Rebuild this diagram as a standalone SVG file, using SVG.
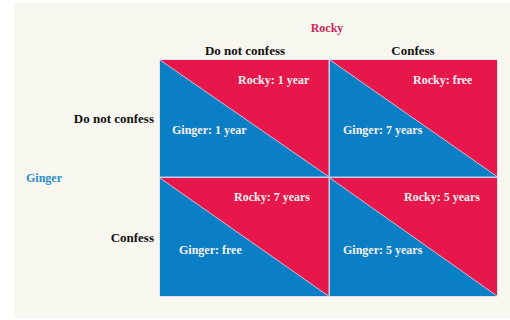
<svg xmlns="http://www.w3.org/2000/svg" width="510" height="320" viewBox="0 0 510 320">
<style>
.red{fill:#e8174b}
.blue{fill:#0b7fc6}
.diag{stroke:#e9c7d6;stroke-width:0.8;fill:none}
.cell{font-family:"Liberation Serif",serif;font-weight:bold;font-size:12px;fill:#f7f1f1}
.hdr{font-family:"Liberation Serif",serif;font-weight:bold;font-size:13px;fill:#111}
.player{font-family:"Liberation Serif",serif;font-weight:bold;font-size:12px}
</style>
<rect x="0" y="0" width="510" height="320" fill="#ffffff"/>
<rect x="14" y="3" width="496" height="315" fill="#f7f7ef"/>
<g id="title-rocky"><text class="player" x="327" y="32" text-anchor="middle" fill="#d3245c">Rocky</text></g>
<g id="title-ginger"><text class="player" x="26" y="182" fill="#2a8dcd">Ginger</text></g>
<g id="col-headers">
<text class="hdr" x="245" y="55" text-anchor="middle">Do not confess</text>
<text class="hdr" x="413" y="55" text-anchor="middle">Confess</text>
</g>
<g id="row-headers">
<text class="hdr" x="154" y="123" text-anchor="end">Do not confess</text>
<text class="hdr" x="154" y="242" text-anchor="end">Confess</text>
</g>
<rect x="159.5" y="59.5" width="338" height="237" fill="#c3cfe6"/>
<g id="cell-nc-nc">
<polygon class="red" points="160,60 328.5,60 328.5,176.5"/>
<polygon class="blue" points="160,60 160,176.5 328.5,176.5"/>
<line class="diag" x1="160" y1="60" x2="328.5" y2="176.5"/>
<text class="cell" x="238" y="84">Rocky: 1 year</text>
<text class="cell" x="172" y="134">Ginger: 1 year</text>
</g>
<g id="cell-nc-c">
<polygon class="red" points="330,60 497,60 497,176.5"/>
<polygon class="blue" points="330,60 330,176.5 497,176.5"/>
<line class="diag" x1="330" y1="60" x2="497" y2="176.5"/>
<text class="cell" x="413" y="84">Rocky: free</text>
<text class="cell" x="343" y="134">Ginger: 7 years</text>
</g>
<g id="cell-c-nc">
<polygon class="red" points="160,178 328.5,178 328.5,296"/>
<polygon class="blue" points="160,178 160,296 328.5,296"/>
<line class="diag" x1="160" y1="178" x2="328.5" y2="296"/>
<text class="cell" x="234" y="201">Rocky: 7 years</text>
<text class="cell" x="179" y="254">Ginger: free</text>
</g>
<g id="cell-c-c">
<polygon class="red" points="330,178 497,178 497,296"/>
<polygon class="blue" points="330,178 330,296 497,296"/>
<line class="diag" x1="330" y1="178" x2="497" y2="296"/>
<text class="cell" x="404" y="201">Rocky: 5 years</text>
<text class="cell" x="343" y="254">Ginger: 5 years</text>
</g>
</svg>
